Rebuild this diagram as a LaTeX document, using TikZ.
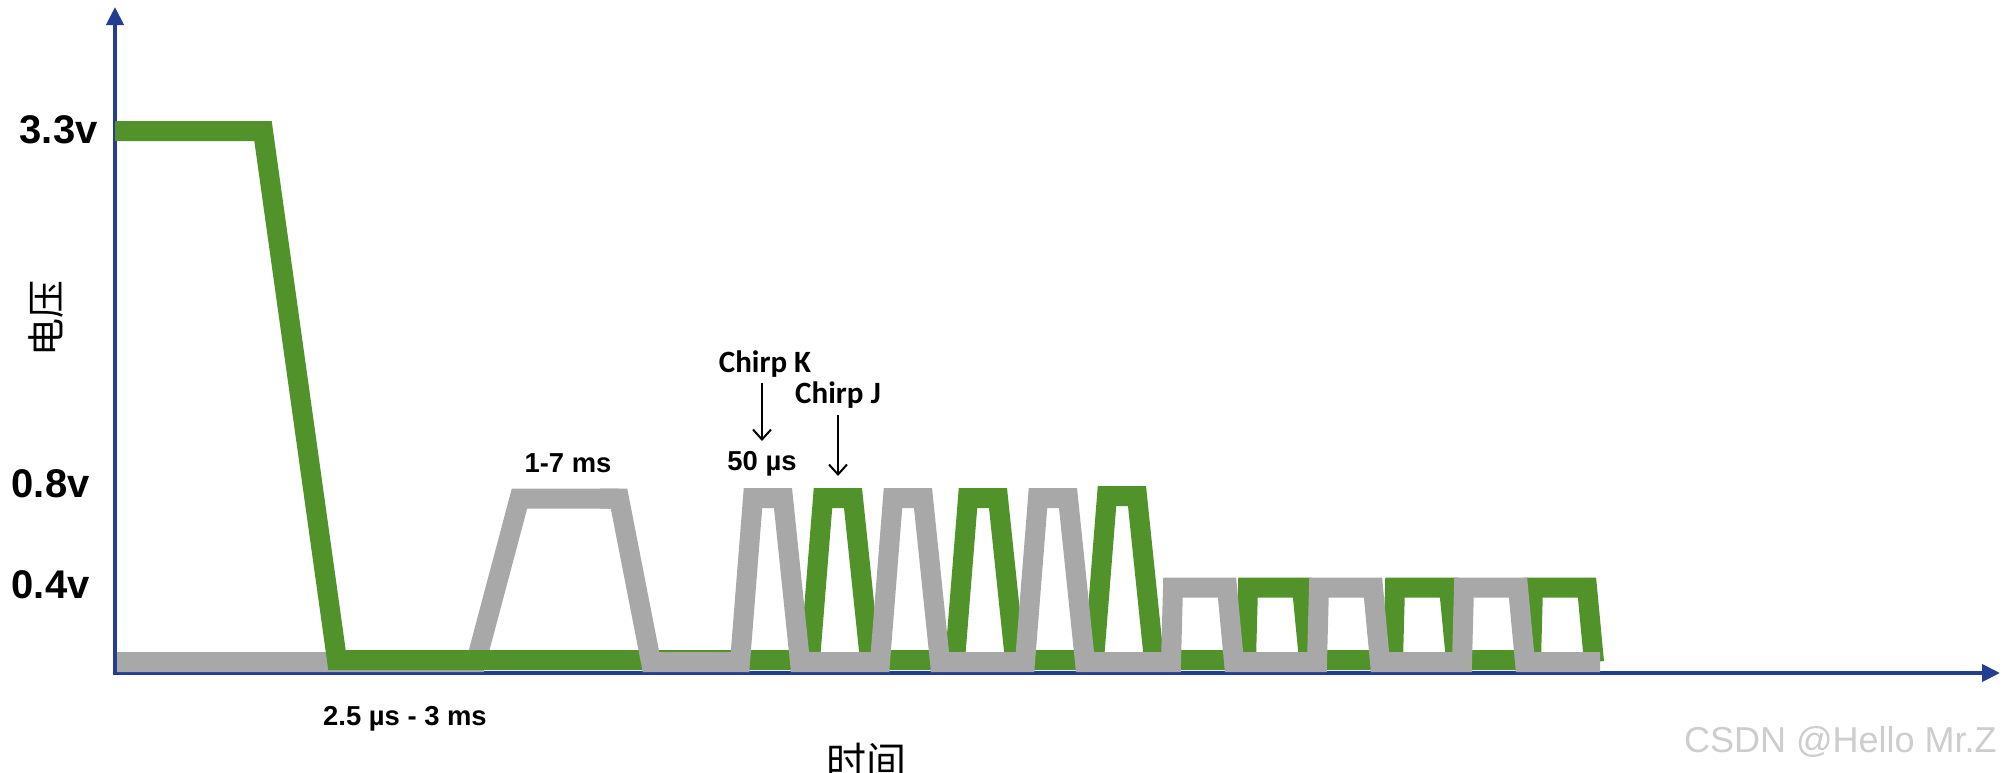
\documentclass[tikz,border=0pt]{standalone}
\usepackage{fontspec}
\setmainfont{Liberation Sans}
\newfontfamily\cjkfont{Noto Sans CJK SC}
\newfontfamily\calfont{Carlito}
\usetikzlibrary{arrows.meta}
\definecolor{axisblue}{RGB}{35,62,145}
\definecolor{siggreen}{RGB}{82,146,42}
\definecolor{siggray}{RGB}{168,168,168}
\definecolor{wmgray}{RGB}{205,205,205}
\begin{document}
\begin{tikzpicture}[x=0.5pt,y=-0.5pt,
  axis/.style={draw=axisblue,line width=2pt,-{Triangle[length=9pt,width=8.5pt]}},
  greensig/.style={draw=siggreen,line width=10pt,line join=miter},
  graysig/.style={draw=siggray,line width=10pt,line join=miter},
  vlabel/.style={font=\bfseries\fontsize{20}{24}\selectfont,anchor=base east,inner sep=0pt},
  tlabel/.style={font=\bfseries\fontsize{13.7}{16}\selectfont,anchor=base,inner sep=0pt},
  chirp/.style={font=\calfont\bfseries\fontsize{15.5}{18}\selectfont,anchor=base,inner sep=0pt},
  ptr/.style={draw=black,line width=1pt,-{Straight Barb[length=5pt,width=9pt]}},
]
\useasboundingbox (0,0) rectangle (2004,772);
\fill[white] (0,0) rectangle (2004,772);

% axes
\coordinate (origin) at (115,673);
\coordinate (ytip) at (115,7);
\coordinate (xtip) at (2000,673);
\draw[axis] (115,675) -- (ytip);
\draw[axis] (113,673) -- (xtip);

% gray signal, part 1 (under green)
\draw[graysig] (117,662) -- (476,662) -- (519.5,498.5) -- (619,498.5);

% green signal
\draw[greensig] (115,131) -- (263,131) -- (337,660) -- (810,660)
  -- (823,498) -- (853,498) -- (870,660) -- (955,660)
  -- (968,498) -- (998,498) -- (1015,660) -- (1094,660)
  -- (1107,496) -- (1137,496) -- (1154,660) -- (1246,660)
  -- (1248,587.5) -- (1302,587.5) -- (1309,660) -- (1393,660)
  -- (1395,587.5) -- (1449,587.5) -- (1456,660) -- (1531,660)
  -- (1533,587.5) -- (1587,587.5) -- (1594,662);

% gray signal, part 2 (over green)
\draw[graysig] (600,498.5) -- (619,498.5) -- (651,662) -- (740,662)
  -- (753,498) -- (783,498) -- (800,662) -- (880,662)
  -- (893,498) -- (923,498) -- (940,662) -- (1025,662)
  -- (1038,498) -- (1068,498) -- (1085,662) -- (1171,662)
  -- (1173,587.5) -- (1227,587.5) -- (1234,662) -- (1317,662)
  -- (1319,587.5) -- (1373,587.5) -- (1380,662) -- (1462,662)
  -- (1464,587.5) -- (1518,587.5) -- (1525,662) -- (1600,662);

% axis labels
\node[vlabel] (v33) at (98,143) {3.3v};
\node[vlabel] (v08) at (90,497) {0.8v};
\node[vlabel] (v04) at (90,598) {0.4v};
\node[font=\cjkfont\fontsize{19}{22}\selectfont,rotate=90,inner sep=0pt] (ylab) at (46,318) {电压};
\node[font=\cjkfont\fontsize{20}{24}\selectfont,inner sep=0pt] (xlab) at (866,761) {时间};

% time labels
\node[tlabel] (t17) at (568,472) {1-7 ms};
\node[tlabel] (t50) at (762,470) {50 µs};
\node[tlabel] (t25) at (405,725) {2.5 µs - 3 ms};

% chirp labels and pointers
\node[chirp] (chk) at (765,372) {Chirp K};
\node[chirp] (chj) at (838,403) {Chirp J};
\coordinate (ksrc) at (762,383);
\coordinate (kdst) at (762,441);
\coordinate (jsrc) at (838,415);
\coordinate (jdst) at (838,476);
\draw[ptr] (ksrc) -- (kdst);
\draw[ptr] (jsrc) -- (jdst);

% watermark
\node[font=\fontsize{18}{22}\selectfont,text=wmgray,anchor=base east,inner sep=0pt] (wm) at (1997,752) {CSDN @Hello Mr.Z};
\end{tikzpicture}
\end{document}
